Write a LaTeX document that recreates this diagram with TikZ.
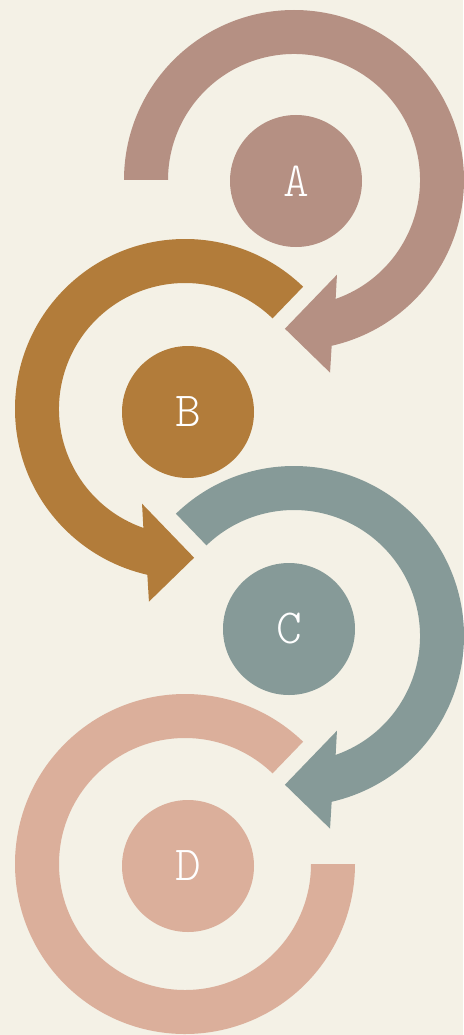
\documentclass[tikz,border=0pt]{standalone}
\usepackage{fontspec}
\newfontfamily\lightmono{Latin Modern Mono Light}
\usetikzlibrary{calc}
\definecolor{paper}{HTML}{F4F1E6}
\definecolor{colA}{HTML}{B59083}
\definecolor{colB}{HTML}{B27C3A}
\definecolor{colC}{HTML}{869A98}
\definecolor{colD}{HTML}{DBAF9B}
\tikzset{
  dot/.style={circle, minimum size=132pt, inner sep=0pt, text=white,
    font=\fontsize{49}{49}\selectfont\lightmono}
}
\begin{document}
\begin{tikzpicture}[x=1pt, y=1pt]
    \fill[paper] (0,0) rectangle (463,-1035);
    \useasboundingbox (0,0) rectangle (463,-1035);
    \coordinate (cA) at (294,-180);
    \coordinate (cB) at (185,-409);
    \coordinate (cC) at (294,-636);
    \coordinate (cD) at (185,-864);
    % rings
    \fill[colA] ($(cA)+(180:170)$) arc[start angle=180, end angle=-77.2, radius=170pt]
        -- ($(cA)+(-79.4:196)$) -- ($(cA)+(-93.5:149)$) -- ($(cA)+(-65.6:104)$)
        -- ($(cA)+(-70.7:126)$) arc[start angle=-70.7, end angle=180, radius=126pt] -- cycle;
    \fill[colB] ($(cB)+(46:170)$) arc[start angle=46, end angle=257.2, radius=170pt]
        -- ($(cB)+(259.4:196)$) -- ($(cB)+(273.5:149)$) -- ($(cB)+(245.6:104)$)
        -- ($(cB)+(250.7:126)$) arc[start angle=250.7, end angle=46, radius=126pt] -- cycle;
    \fill[colC] ($(cC)+(134:170)$) arc[start angle=134, end angle=-77.2, radius=170pt]
        -- ($(cC)+(-79.4:196)$) -- ($(cC)+(-93.5:149)$) -- ($(cC)+(-65.6:104)$)
        -- ($(cC)+(-70.7:126)$) arc[start angle=-70.7, end angle=134, radius=126pt] -- cycle;
    \fill[colD] ($(cD)+(46:170)$) arc[start angle=46, end angle=360, radius=170pt]
        -- ($(cD)+(0:126)$) arc[start angle=360, end angle=46, radius=126pt] -- cycle;
    % centres
    \node[dot, fill=colA] (a) at (296,-181) {A};
    \node[dot, fill=colB] (b) at (188,-412) {B};
    \node[dot, fill=colC] (c) at (289,-629) {C};
    \node[dot, fill=colD] (d) at (188,-866) {D};
\end{tikzpicture}
\end{document}
